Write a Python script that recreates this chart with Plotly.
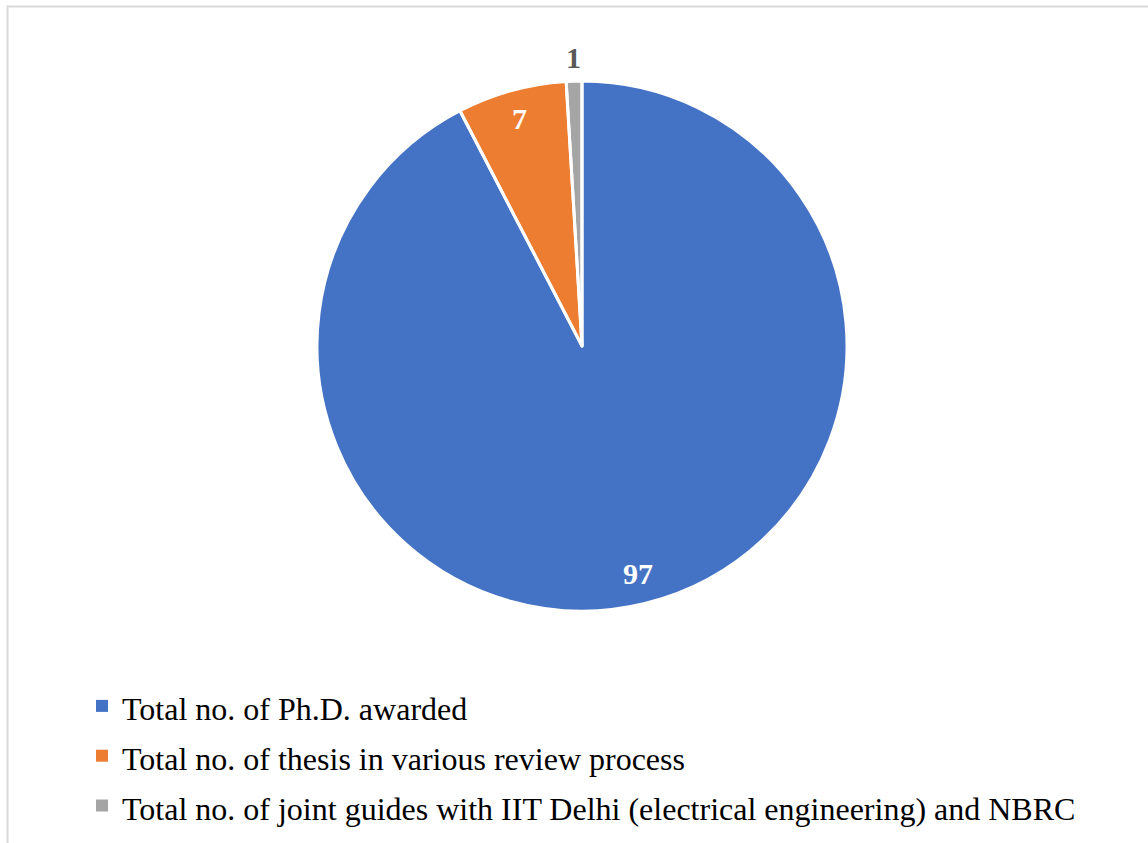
import math
import plotly.graph_objects as go

labels = [
    "Total no. of Ph.D. awarded",
    "Total no. of thesis in various review process",
    "Total no. of joint guides with IIT Delhi (electrical engineering) and NBRC",
]
values = [97, 7, 1]
colors = ["#4472C4", "#ED7D31", "#A5A5A5"]
label_colors = ["white", "white", "#595959"]
label_radius = [0.885, 0.89, 1.09]  # fraction of pie radius (inside / outside)

W, H = 1148, 843
cx, cy, R = 582, 346, 265

legend_labels = [f"<span style='font-size:32px'>{t}</span>" for t in labels]
domain = dict(x=[(cx - R) / W, (cx + R) / W],
              y=[(H - cy - R) / H, (H - cy + R) / H])

fig = go.Figure()
# filled slices (drive the legend, no outline so legend squares stay full size)
fig.add_trace(go.Pie(
    labels=legend_labels,
    values=values,
    sort=False,
    direction="clockwise",
    rotation=0,
    marker=dict(colors=colors, line=dict(color="white", width=0)),
    textinfo="none",
    domain=domain,
    hovertemplate="%{label}: %{value}<extra></extra>",
))
# white slice separators on top
fig.add_trace(go.Pie(
    labels=legend_labels,
    values=values,
    sort=False,
    direction="clockwise",
    rotation=0,
    marker=dict(colors=["rgba(0,0,0,0)"] * len(values),
                line=dict(color="white", width=3)),
    textinfo="none",
    domain=domain,
    showlegend=False,
    hoverinfo="skip",
))

# data labels placed along each slice's mid-angle
total = sum(values)
annotations = []
cum = 0
for v, col, rf in zip(values, label_colors, label_radius):
    mid = (cum + v / 2) / total * 2 * math.pi
    cum += v
    px = cx + rf * R * math.sin(mid)
    py = cy - rf * R * math.cos(mid)
    annotations.append(dict(
        x=px / W, y=(H - py) / H, xref="paper", yref="paper",
        text=f"<b>{v}</b>", showarrow=False,
        font=dict(family="Liberation Serif", size=30, color=col),
        xanchor="center", yanchor="middle",
    ))

fig.update_layout(
    width=W, height=H,
    margin=dict(l=0, r=0, t=0, b=0),
    paper_bgcolor="white",
    showlegend=True,
    legend=dict(
        x=82 / W, xanchor="left",
        y=(H - 676) / H, yanchor="top",
        font=dict(family="Liberation Serif", size=36, color="black"),
        bgcolor="rgba(0,0,0,0)",
    ),
    annotations=annotations,
    shapes=[
        dict(type="rect", xref="paper", yref="paper",
             x0=7.5 / W, x1=1.02, y0=-0.02, y1=(H - 6.5) / H,
             line=dict(color="#D9D9D9", width=2), fillcolor="rgba(0,0,0,0)",
             layer="below"),
    ],
)

fig.write_html("out.html")
